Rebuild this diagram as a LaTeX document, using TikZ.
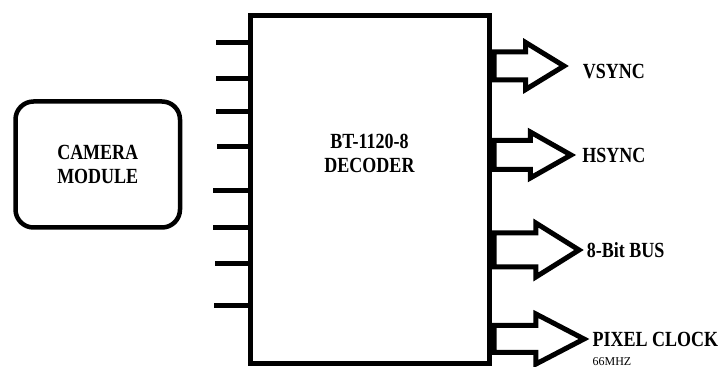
\documentclass[tikz,border=0pt]{standalone}
\usepackage{fontspec}
\setmainfont{Liberation Serif}
\usetikzlibrary{positioning, shapes.arrows}
\newcommand{\tall}[1]{\scalebox{1}[1.2]{#1}}

\begin{document}
\begin{tikzpicture}[x=1pt, y=1pt,
  box/.style = {draw, line width=5pt, minimum width=239pt, minimum height=348.5pt},
  cam/.style = {draw, line width=4.5pt, rounded corners=18pt, minimum width=164.5pt, minimum height=126pt, align=center, font=\fontsize{18}{24}\selectfont\bfseries},
  txt/.style = {align=center, font=\fontsize{18}{24}\selectfont\bfseries},
  pin/.style = {line width=5pt},
  outarrow/.style = {single arrow, draw, line width=5pt, inner xsep=0pt, anchor=tail, single arrow head indent=0pt},
  lbl/.style = {inner sep=0pt, anchor=west, font=\fontsize{18}{22}\selectfont\bfseries},
  note/.style = {inner sep=0pt, font=\fontsize{12}{14}\selectfont}
  ]
\useasboundingbox (0,0) rectangle (721,367);

% Blocks
\node[box] (dec) at (369.5,177.25) {};
\node[txt] (dectext) at ([yshift=36.75pt]dec.center) {\tall{BT-1120-8}\\\tall{DECODER}};
\node[cam] (cam) at (97.75,202.5) {\tall{CAMERA}\\\tall{MODULE}};

% Input pins
\foreach \y/\x [count=\i] in {324/216, 288/216, 255/216, 220/217, 176/213, 139/213, 103/215, 61/214} {
  \coordinate (pin\i) at (\x,\y);
  \draw[pin] (pin\i) -- (pin\i -| dec.west);
}

% Output arrows
\node[outarrow, minimum height=70pt, inner ysep=11.5pt, single arrow head extend=9.5pt, single arrow tip angle=63] (vs) at (dec.east |- 0,301) {};
\node[outarrow, minimum height=77pt, inner ysep=12pt, single arrow head extend=8.5pt, single arrow tip angle=59] (hs) at (dec.east |- 0,212) {};
\node[outarrow, minimum height=85pt, inner ysep=14.5pt, single arrow head extend=10pt, single arrow tip angle=64] (bus) at (dec.east |- 0,117) {};
\node[outarrow, minimum height=90pt, inner ysep=11pt, single arrow head extend=11.5pt, single arrow tip angle=55] (pclk) at (dec.east |- 0,28) {};

% Labels
\node[lbl, right=14pt of vs.tip, yshift=-6pt] (vslabel) {\tall{VSYNC}};
\node[lbl, right=6pt of hs.tip] (hslabel) {\tall{HSYNC}};
\node[lbl, right=3pt of bus.tip] (buslabel) {\tall{8-Bit BUS}};
\node[lbl, right=3pt of pclk.tip] (pclklabel) {\tall{PIXEL CLOCK}};
\node[note, anchor=north west] (freq) at ([yshift=-11pt]pclklabel.south west) {66MHZ};
\end{tikzpicture}
\end{document}
